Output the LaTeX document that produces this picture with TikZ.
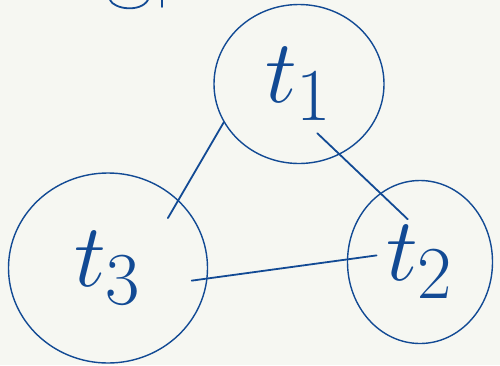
\documentclass[tikz,border=0pt]{standalone}
\usepackage{amsmath}
\usepackage{tikz}
\usetikzlibrary{shapes.geometric, calc}

\definecolor{ink}{RGB}{18,74,148}
\definecolor{paper}{RGB}{246,247,242}
\newcommand{\tname}[1]{\scalebox{3.6}{$t_{#1}$}}

\begin{document}
\begin{tikzpicture}[x=1pt, y=-1pt,
    loop/.style={draw=ink, line width=1.4pt, ellipse, inner sep=0pt, text=ink, font=\Huge},
    link/.style={draw=ink, line width=1.8pt, line cap=round}]
    % Paper
    \path[use as bounding box, fill=paper] (0,0) rectangle (500,365);

    % Loops t1, t2, t3
    \node[loop, minimum width=170pt, minimum height=159pt] (t1) at (299,84) {\tname{1}};
    \node[loop, minimum width=145pt, minimum height=163pt] (t2) at (420,262) {\tname{2}};
    \node[loop, minimum width=199pt, minimum height=190pt] (t3) at (108,268) {\tname{3}};

    % Links between the loops
    \draw[link, shorten <=-31pt, shorten >=-38pt] (t1.300) -- (t2.120);
    \draw[link, shorten >=-21pt] (t1.207) -- (t3.44);
    \draw[link, shorten <=-16pt, shorten >=-30pt] (t3.354) -- (t2.178);

    % Stroke cut off at the top edge
    \draw[link] (110,0) .. controls (114,9) and (140,13) .. (148,0);
    \draw[link] (162,0) -- (162,7);
\end{tikzpicture}
\end{document}
